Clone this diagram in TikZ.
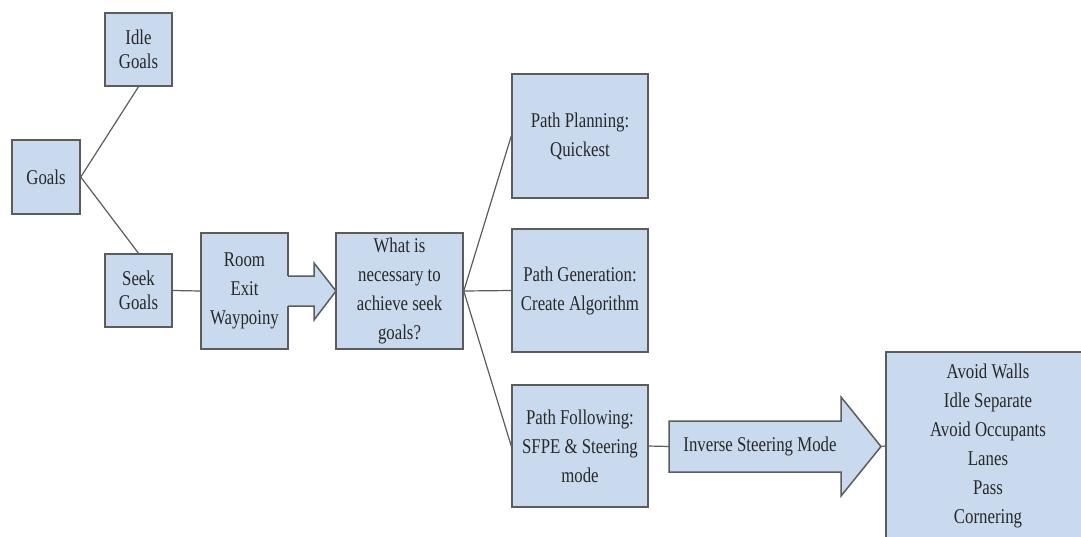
\documentclass[tikz,border=0pt]{standalone}
\usepackage{fontspec}
\setmainfont{Liberation Serif}[FakeStretch=0.8]
\usetikzlibrary{calc}
\definecolor{boxfill}{RGB}{201,218,238}
\definecolor{edge}{RGB}{92,92,92}
\definecolor{txt}{RGB}{40,40,40}
\tikzset{
  box/.style={draw=edge, fill=boxfill, line width=1.5pt, text=txt, align=center,
    inner sep=0pt, font=\fontsize{21}{29}\selectfont},
  tightbox/.style={box, font=\fontsize{21}{24.5}\selectfont},
  conn/.style={draw=edge, line width=1.2pt},
  blockarrow/.style={draw=edge, fill=boxfill, line width=1.5pt, line join=miter},
  label/.style={text=txt, inner sep=0pt, font=\fontsize{21}{29}\selectfont}
}
\begin{document}
\begin{tikzpicture}[x=1pt,y=-1pt]
\path[use as bounding box, clip] (0,0) rectangle (1081,536);
\fill[white] (0,0) rectangle (1081,536);

% boxes
\node[tightbox, minimum width=67pt, minimum height=73pt] (idle) at (138.5,49.5) {Idle\\Goals};
\node[box, minimum width=68pt, minimum height=74pt] (goals) at (46,177) {Goals};
\node[tightbox, minimum width=67pt, minimum height=73pt] (seek) at (138.5,290.5) {Seek\\Goals};
\node[box, minimum width=87pt, minimum height=116pt] (room) at (244.5,291) {Room\\Exit\\Waypoiny};
\node[box, minimum width=127pt, minimum height=116pt] (what) at (399.5,291) {What is\\necessary to\\achieve seek\\goals?};
\node[box, minimum width=136pt, minimum height=124pt] (plan) at (580,136) {Path Planning:\\Quickest};
\node[box, minimum width=136pt, minimum height=123pt] (gen) at (580,290.5) {Path Generation:\\Create Algorithm};
\node[box, minimum width=136pt, minimum height=122pt] (foll) at (580,446) {Path Following:\\SFPE \& Steering\\mode};
\node[box, minimum width=204pt, minimum height=188pt] (right) at (988,446) {Avoid Walls\\Idle Separate\\Avoid Occupants\\Lanes\\Pass\\Cornering};

% arrow attached to Room box
\fill[boxfill] (286,276) -- (314,276) -- (314,263) -- (336,291) -- (314,320) -- (314,306) -- (286,306) -- cycle;
\draw[draw=edge, line width=1.5pt, line join=miter] (288,276) -- (314,276) -- (314,263) -- (336,291) -- (314,320) -- (314,306) -- (288,306);

% inverse steering block arrow
\draw[blockarrow] (669,421) -- (841,421) -- (841,397) -- (881,446.5) -- (841,496) -- (841,472) -- (669,472) -- cycle;
\node[label, minimum width=182pt, minimum height=51pt] (inv) at (760,446.5) {Inverse Steering Mode};
\coordinate (invtip) at (881,446.5);

% connectors
\draw[conn] (goals.east) -- (idle.south);
\draw[conn] (goals.east) -- (seek.north);
\draw[conn] (seek.east) -- (room.west);
\draw[conn] (what.east) -- (plan.west);
\draw[conn] (what.east) -- (gen.west);
\draw[conn] (what.east) -- (foll.west);
\draw[conn] (foll.east) -- (inv.west);
\draw[conn] (invtip) -- (right.west);
\end{tikzpicture}
\end{document}
